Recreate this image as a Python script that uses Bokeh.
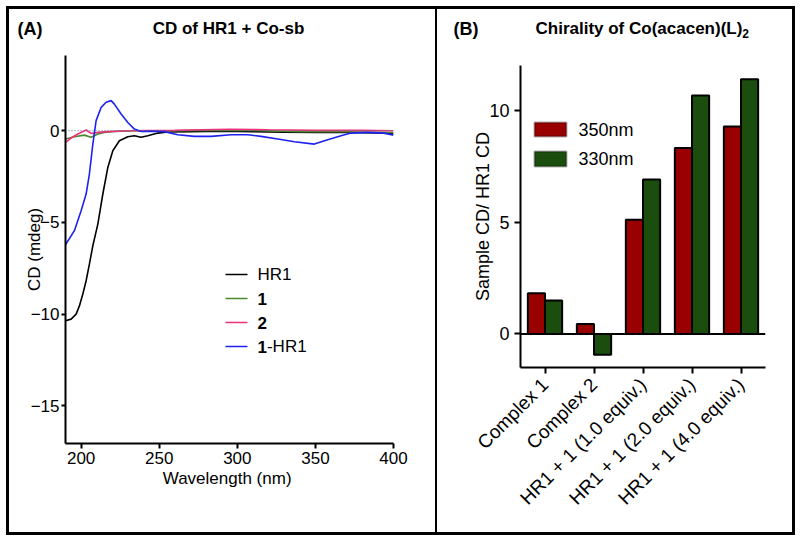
import math
from bokeh.plotting import figure
from bokeh.models import Range1d, Span, Label, BoxAnnotation, FixedTicker, FactorRange, ColumnDataSource
from bokeh.transform import dodge
from bokeh.embed import file_html
from bokeh.resources import INLINE

FONT = "Liberation Sans"

# ---------------- data: panel A (CD spectra) ----------------
hr1_wl = [190, 193.6, 196.8, 198.9, 201.1, 203.2, 205.3, 207.5, 210.7, 213.9, 217.1, 220.3, 224.5,
          229.9, 234.1, 238.4, 242.7, 249.1, 255.5, 270, 290, 310, 330, 350, 370, 390, 400]
hr1_cd = [-10.36, -10.27, -10.0, -9.55, -8.9, -8.18, -7.27, -6.27, -5.09, -3.45, -2.0, -1.09, -0.55,
          -0.33, -0.27, -0.36, -0.27, -0.13, -0.07, -0.05, -0.03, -0.05, -0.08, -0.1, -0.1, -0.12, -0.16]

c1_wl = [190, 195.7, 202.1, 206.4, 210.7, 214.9, 221.3, 235, 260, 290, 310, 340, 370, 400]
c1_cd = [-0.45, -0.33, -0.24, -0.36, -0.18, -0.09, -0.04, 0.0, 0.0, 0.03, 0.02, -0.05, -0.06, -0.1]

c2_wl = [190, 193.6, 197.9, 203.2, 206.4, 210.7, 217, 229.9, 260, 295, 320, 350, 380, 400]
c2_cd = [-0.64, -0.4, -0.18, 0.04, -0.15, -0.09, -0.05, 0.0, 0.02, 0.08, 0.05, 0.02, 0.02, 0.0]

mix_wl = [190, 195.7, 200, 203.2, 205.3, 207.5, 209.6, 212.8, 216, 219.2, 221.3, 225.6, 229.9, 234.1,
          238.4, 244.8, 253.3, 261.9, 272.5, 283.2, 296, 306.7, 315.2, 325.9, 336.5, 349.3, 357.9,
          366.4, 372.8, 383.5, 394.2, 400]
mix_cd = [-6.22, -5.45, -4.36, -3.45, -2.36, -0.73, 0.55, 1.27, 1.55, 1.64, 1.45, 0.91, 0.45, 0.09,
          -0.04, -0.02, -0.05, -0.22, -0.31, -0.31, -0.22, -0.22, -0.31, -0.45, -0.6, -0.73, -0.49,
          -0.27, -0.13, -0.09, -0.13, -0.24]

xticks_A = [200, 250, 300, 350, 400]
yticks_A = [-15, -10, -5, 0]

# ---------------- data: panel B (bars) ----------------
categories = ["Complex 1", "Complex 2", "HR1 + 1 (1.0 equiv.)", "HR1 + 1 (2.0 equiv.)", "HR1 + 1 (4.0 equiv.)"]
cd_350 = [1.82, 0.45, 5.11, 8.31, 9.27]
cd_330 = [1.49, -0.93, 6.90, 10.66, 11.39]
yticks_B = [0, 5, 10]

# ---------------- styles ----------------
C_HR1, C_1, C_2, C_MIX = "#000000", "#4a8a2a", "#f0307a", "#1e22f0"
RED, GREEN = "#990000", "#1b4d0e"
BORDER = "3px solid black"

BLD = {' ': 278, '+': 584, 'C': 722, 'h': 611, 'i': 278, 'r': 389, 'a': 556, 'l': 278, 't': 333,
       'y': 556, 'o': 611, 'f': 333, '(': 333, ')': 333, 'c': 556, 'e': 556, 'n': 611, 'L': 611}


def tw_bold(s, size):
    return sum(556 if ch.isdigit() else BLD.get(ch, 556) for ch in s) * size / 1000.0


def style_axis(ax, size):
    ax.axis_line_width = 2
    ax.axis_line_color = "black"
    ax.major_tick_line_width = 2
    ax.major_tick_in = 0
    ax.minor_tick_in = 0
    ax.minor_tick_out = 0
    ax.major_label_text_font = FONT
    ax.major_label_text_font_size = f"{size}px"
    ax.major_label_text_color = "black"
    ax.axis_label_text_font = FONT
    ax.axis_label_text_font_size = f"{size}px"
    ax.axis_label_text_font_style = "normal"
    ax.axis_label_text_color = "black"


def mk_label(x, y, text, size, bold=False, align="left", baseline="alphabetic"):
    return Label(x=x, y=y, x_units="screen", y_units="screen", text=text,
                 text_font=FONT, text_font_size=f"{size}px",
                 text_font_style="bold" if bold else "normal",
                 text_align=align, text_baseline=baseline, text_color="black")


# ================= Panel A =================
FA_L, FA_T, FA_B = 65, 55, 443   # frame left / top / bottom in page px
pA = figure(frame_width=328, frame_height=388, x_range=Range1d(190, 400), y_range=Range1d(-17.05, 4.1),
            output_backend="svg", toolbar_location=None, title=None,
            min_border_left=56, min_border_right=42, min_border_top=46, min_border_bottom=89,
            styles={"position": "absolute", "left": "6px", "top": "6px",
                    "border-left": BORDER, "border-top": BORDER, "border-bottom": BORDER,
                    "border-right": "2px solid black"})
pA.grid.visible = False
pA.outline_line_color = None
pA.xaxis.ticker = FixedTicker(ticks=xticks_A)
pA.yaxis.ticker = FixedTicker(ticks=yticks_A)
style_axis(pA.xaxis[0], 17)
style_axis(pA.yaxis[0], 17)
pA.xaxis.major_tick_out = 5
pA.yaxis.major_tick_out = 4
pA.xaxis.major_label_standoff = 3
pA.yaxis.major_label_standoff = 2
pA.xaxis.axis_label = "Wavelength  (nm)"
pA.yaxis.axis_label = "CD (mdeg)"
pA.xaxis.axis_label_standoff = 2
pA.yaxis.axis_label_standoff = -16

pA.add_layout(Span(location=0, dimension="width", line_color="#557788", line_width=1, line_dash="1 2"))

pA.line(hr1_wl, hr1_cd, line_color=C_HR1, line_width=1.6)
pA.line(c1_wl, c1_cd, line_color=C_1, line_width=1.6)
pA.line(c2_wl, c2_cd, line_color=C_2, line_width=1.6)
pA.line(mix_wl, mix_cd, line_color=C_MIX, line_width=1.6)

# titles in the "above" panels (screen offsets calibrated to the panel boxes)
pA.add_layout(mk_label(228 - FA_L, 27, "CD of HR1 + Co-sb", 17, bold=True, align="center"), "above")
pA.add_layout(mk_label(17 - FA_L, 8, "(A)", 18, bold=True), "above")

# legend A (inside frame; screen units relative to frame bottom-left)
leg_rows = [274, 298, 322, 346]
leg_cols = [C_HR1, C_1, C_2, C_MIX]
for yy, cc in zip(leg_rows, leg_cols):
    pA.add_layout(BoxAnnotation(left=225 - FA_L, right=247 - FA_L, bottom=FA_B - yy - 0.8, top=FA_B - yy + 0.8,
                                left_units="screen", right_units="screen", top_units="screen",
                                bottom_units="screen", fill_color=cc, fill_alpha=1, line_color=None))
pA.add_layout(mk_label(257 - FA_L, FA_B - leg_rows[0], "HR1", 17, baseline="middle"))
pA.add_layout(mk_label(257 - FA_L, FA_B - leg_rows[1], "1", 17, bold=True, baseline="middle"))
pA.add_layout(mk_label(257 - FA_L, FA_B - leg_rows[2], "2", 17, bold=True, baseline="middle"))
pA.add_layout(mk_label(257 - FA_L, FA_B - leg_rows[3], "1", 17, bold=True, baseline="middle"))
pA.add_layout(mk_label(257 - FA_L + tw_bold("1", 17), FA_B - leg_rows[3], "-HR1", 17, baseline="middle"))

# ================= Panel B =================
FB_L, FB_T, FB_B = 520, 65, 367
src = ColumnDataSource(dict(cat=categories, v350=cd_350, v330=cd_330))
pB = figure(frame_width=245, frame_height=302, x_range=FactorRange(factors=categories),
            y_range=Range1d(-1.5, 12), output_backend="svg", toolbar_location=None, title=None,
            min_border_left=83, min_border_right=27, min_border_top=56, min_border_bottom=165,
            styles={"position": "absolute", "left": "437px", "top": "6px",
                    "border-top": BORDER, "border-right": BORDER, "border-bottom": BORDER})
pB.grid.visible = False
pB.outline_line_color = None
pB.yaxis.ticker = FixedTicker(ticks=yticks_B)
style_axis(pB.xaxis[0], 19)
style_axis(pB.yaxis[0], 18)
pB.xaxis.major_tick_out = 6
pB.yaxis.major_tick_out = 6
pB.yaxis.major_label_standoff = 5
pB.xaxis.major_label_orientation = math.pi / 4
pB.xaxis.major_label_standoff = 8
pB.yaxis.axis_label = "Sample CD/ HR1 CD"
pB.yaxis.axis_label_standoff = -7

pB.add_layout(Span(location=0, dimension="width", line_color="black", line_width=2))
pB.vbar(x=dodge("cat", -0.175, range=pB.x_range), top="v350", width=0.35, source=src,
        fill_color=RED, line_color="black", line_width=2)
pB.vbar(x=dodge("cat", 0.175, range=pB.x_range), top="v330", width=0.35, source=src,
        fill_color=GREEN, line_color="black", line_width=2)

# titles in "above" panels
tstart = 535
pB.add_layout(mk_label(tstart - FB_L, 37, "Chirality of Co(acacen)(L)", 17, bold=True), "above")
pB.add_layout(mk_label(tstart - FB_L + tw_bold("Chirality of Co(acacen)(L)", 17), 13,
                       "2", 12, bold=True), "above")
pB.add_layout(mk_label(453 - FB_L, 9, "(B)", 18, bold=True), "above")

# legend B
for (top_, bot_, cc, txt) in [(122, 136, RED, "350nm"), (151, 166, GREEN, "330nm")]:
    pB.add_layout(BoxAnnotation(left=534 - FB_L, right=566 - FB_L, bottom=FB_B - bot_, top=FB_B - top_,
                                left_units="screen", right_units="screen", top_units="screen",
                                bottom_units="screen", fill_color=cc, fill_alpha=1,
                                line_color="black", line_width=2))
    pB.add_layout(mk_label(578 - FB_L, FB_B - (top_ + bot_) / 2, txt, 18, baseline="middle"))

open("out.html", "w").write(file_html((pA, pB), INLINE))
